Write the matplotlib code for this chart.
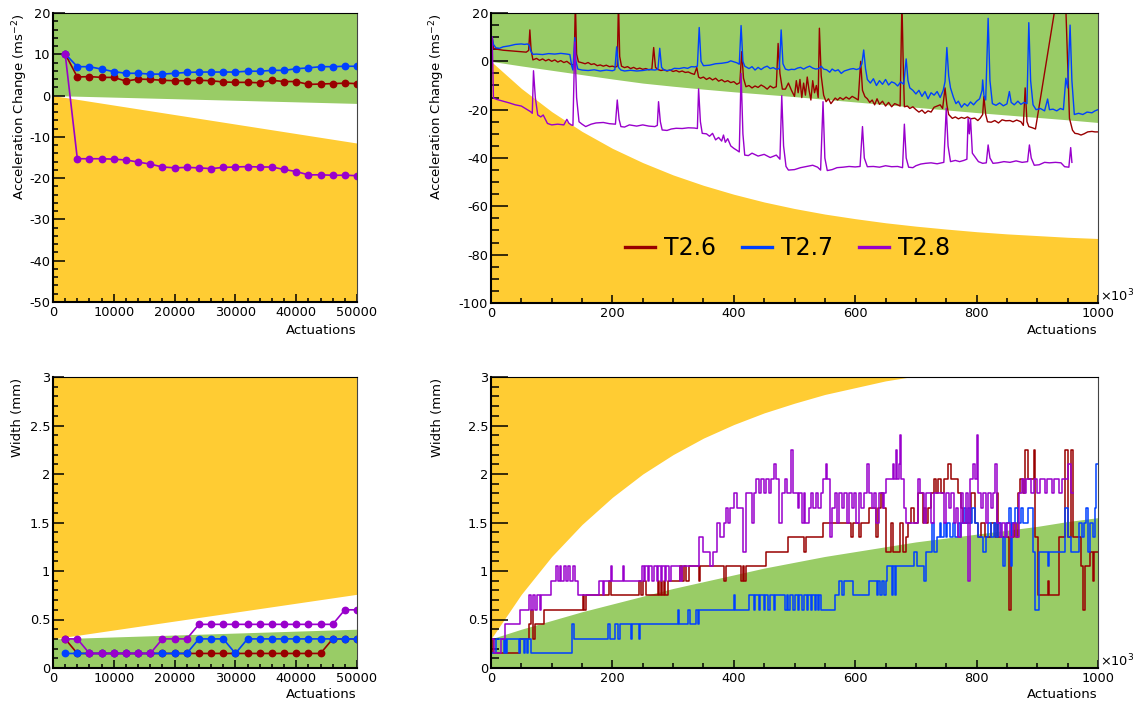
import numpy as np
import matplotlib
matplotlib.use("Agg")
import matplotlib.pyplot as plt
from matplotlib.ticker import MultipleLocator
from matplotlib.lines import Line2D

plt.rcParams['font.family'] = ['DejaVu Sans']
plt.rcParams['axes.unicode_minus'] = False
plt.rcParams['mathtext.default'] = 'regular'

# ---------------------------------------------------------------- styling
LABELS = ["T2.6", "T2.7", "T2.8"]
RED, BLUE, PURPLE = "#990000", "#0040ff", "#9900cc"
GREEN, ORANGE = "#99cc66", "#ffcc33"

# ------------------------------------------- first 50 000 actuations (every 2000)
SHORT_X = list(range(2000, 50001, 2000))

T26_SHORT_ACC = [10.1, 4.5, 4.6, 4.4, 4.4, 3.5, 4.0, 3.9, 3.7, 3.6, 3.6, 3.7, 3.6,
                 3.3, 3.2, 3.2, 3.1, 3.7, 3.4, 3.4, 2.7, 2.8, 2.9, 3.0, 2.9]
T27_SHORT_ACC = [10.1, 7.0, 7.0, 6.4, 5.8, 5.4, 5.4, 5.2, 5.2, 5.4, 5.6, 5.7, 5.7,
                 5.7, 5.7, 5.9, 5.9, 6.1, 6.1, 6.5, 6.7, 7.0, 7.0, 7.1, 7.1]
T28_SHORT_ACC = [10.1, -15.3, -15.3, -15.3, -15.4, -15.6, -16.1, -16.6, -17.3, -17.5,
                 -17.4, -17.5, -17.7, -17.4, -17.3, -17.2, -17.3, -17.3, -17.9, -18.4,
                 -19.2, -19.2, -19.3, -19.3, -19.4]

T26_SHORT_W = [0.3] + [0.15] * 21 + [0.3] * 3
T27_SHORT_W = [0.15] * 11 + [0.3] * 3 + [0.15] + [0.3] * 10
T28_SHORT_W = [0.3] * 2 + [0.15] * 6 + [0.3] * 3 + [0.45] * 12 + [0.6] * 2

# tolerance bands over the first 50 000 actuations
SHORT_BAND_X = [0, 50000]
SHORT_ACC_GREEN_EDGE = [0.0, -1.9]
SHORT_ACC_ORANGE_EDGE = [0.0, -11.5]
SHORT_W_GREEN_EDGE = [0.30, 0.40]
SHORT_W_ORANGE_EDGE = [0.30, 0.76]

# ------------------------------------------- full run (x in thousands of actuations)
BAND_K = list(range(0, 1001, 50))
ACC_GREEN_EDGE = [0.0, -1.9, -3.7, -5.5, -7.3, -9.0, -10.3, -11.5, -12.6, -13.6, -14.6,
                  -15.7, -16.8, -17.9, -19.0, -20.1, -21.2, -22.2, -23.2, -24.2, -25.3]
ACC_ORANGE_EDGE = [0.0, -11.2, -20.8, -29.0, -36.0, -41.9, -47.0, -51.3, -55.0, -58.2,
                   -60.9, -63.2, -65.1, -66.8, -68.2, -69.4, -70.5, -71.4, -72.1, -72.8, -73.3]
W_GREEN_EDGE = [0.30, 0.40, 0.49, 0.58, 0.66, 0.74, 0.82, 0.89, 0.96, 1.03, 1.09,
                1.15, 1.20, 1.25, 1.30, 1.34, 1.38, 1.42, 1.46, 1.51, 1.55]
W_ORANGE_EDGE = [0.30, 0.76, 1.15, 1.48, 1.76, 2.00, 2.20, 2.37, 2.51, 2.63, 2.73,
                 2.82, 2.89, 2.96, 3.01, 3.05, 3.08, 3.11, 3.13, 3.15, 3.16]

# acceleration change, T2.6
T26_ACC_K = [2, 4, 10, 20, 30, 40, 50, 58, 62, 64, 66, 69, 75, 80, 85, 90, 95, 100, 105, 110,
             115, 120, 125, 130, 133, 137, 139, 141, 144, 150, 155, 160, 165, 170, 175, 180,
             185, 190, 195, 200, 205, 208, 210, 212, 215, 220, 225, 230, 235, 240, 245, 250,
             255, 260, 265, 268, 271, 275, 280, 285, 290, 295, 300, 305, 310, 315, 320, 325,
             330, 335, 339, 342, 345, 350, 355, 360, 365, 370, 375, 380, 385, 390, 395, 400,
             405, 410, 413, 416, 420, 425, 430, 435, 440, 445, 450, 455, 460, 465, 470, 473,
             476, 480, 485, 490, 495, 500, 503, 506, 509, 512, 515, 518, 521, 524, 527, 530,
             533, 536, 539, 541, 544, 548, 552, 556, 560, 563, 567, 571, 575, 580, 585, 590,
             595, 600, 605, 609, 612, 616, 620, 624, 628, 632, 636, 640, 645, 650, 655, 660,
             665, 670, 674, 677, 679, 681, 686, 690, 695, 700, 705, 710, 715, 720, 725, 730,
             735, 740, 744, 748, 751, 754, 760, 765, 770, 775, 780, 785, 790, 797, 802, 806,
             810, 812, 815, 818, 824, 830, 836, 842, 848, 855, 860, 866, 873, 877, 880, 883,
             886, 892, 897, 944, 953, 958, 962, 967, 972, 977, 983, 990, 995, 1000]
T26_ACC = [10.0, 5.4, 5.0, 4.6, 4.4, 4.2, 4.0, 3.8, 4.5, 13.0, 5.0, 0.6, 1.2, 0.4, 1.0, 0.2,
           0.8, 0.0, 0.6, -0.3, 0.3, -0.5, 0.0, -1.0, -1.5, -1.2, 25.0, 3.0, -0.2, -0.6, -1.0,
           -0.5, -1.3, -1.0, -1.8, -1.5, -2.0, -1.6, -2.2, -2.0, -2.4, -2.0, 25.0, 2.0, -2.0,
           -2.6, -2.2, -3.0, -2.5, -3.2, -2.8, -3.3, -3.0, -3.5, -3.2, 5.7, -2.5, -3.4, -3.8,
           -3.5, -4.0, -3.6, -4.2, -3.8, -4.4, -4.0, -4.6, -4.4, -5.0, -5.4, -2.6, -6.5, -7.0,
           -6.5, -7.5, -6.8, -7.7, -7.0, -8.2, -7.6, -8.5, -8.0, -8.8, -8.4, -9.5, -8.8, 4.0,
           -7.0, -10.5, -10.0, -11.0, -10.2, -10.8, -9.8, -10.5, -11.5, -10.2, -11.0, -10.5,
           7.4, -5.0, -11.5, -11.5, -9.0, -12.0, -14.5, -8.0, -13.0, -7.5, -15.0, -9.0, -14.0,
           -6.5, -12.0, -16.0, -8.0, -13.0, -10.0, -15.0, 13.7, -6.0, -14.0, -16.7, -15.5,
           -17.5, -16.5, -15.2, -16.0, -15.0, -15.8, -14.8, -15.6, -14.5, -15.2, -16.0, 0.0,
           -12.0, -14.6, -15.5, -17.0, -16.0, -18.0, -15.5, -17.8, -16.5, -18.5, -17.0, -18.8,
           -17.5, -18.0, -18.5, 25.0, 0.0, -18.8, -18.5, -19.5, -18.8, -20.0, -21.0, -20.2,
           -21.5, -20.5, -21.0, -19.0, -18.5, -18.0, -19.5, -11.0, -18.0, -22.0, -23.6, -23.0,
           -23.8, -23.2, -23.6, -23.0, -23.8, -23.5, -24.5, -23.5, -22.0, -14.6, -22.0, -25.0,
           -25.2, -24.5, -25.5, -24.2, -24.6, -24.5, -25.0, -24.3, -25.0, -26.5, -11.0, -25.0,
           -27.0, -27.5, -28.0, 45.0, -23.6, -28.5, -29.8, -30.0, -30.5, -30.0, -29.2, -29.0,
           -29.2, -29.2]

# acceleration change, T2.7
T27_ACC_K = [2, 4, 8, 14, 20, 30, 40, 50, 55, 60, 63, 66, 69, 75, 85, 95, 105, 115, 125, 130,
             133, 135, 138, 140, 143, 150, 160, 170, 180, 190, 200, 204, 207, 210, 214, 220,
             230, 240, 250, 260, 270, 275, 278, 281, 285, 290, 296, 302, 310, 318, 324, 330,
             336, 340, 343, 346, 350, 360, 370, 380, 390, 395, 400, 405, 409, 412, 415, 418,
             425, 430, 435, 440, 445, 450, 455, 460, 465, 470, 475, 478, 481, 485, 490, 495,
             500, 505, 510, 515, 520, 525, 530, 535, 540, 544, 548, 553, 558, 562, 567, 572,
             577, 582, 587, 592, 597, 602, 607, 611, 614, 617, 620, 625, 630, 635, 640, 645,
             650, 655, 660, 665, 670, 675, 680, 684, 687, 690, 695, 700, 705, 710, 715, 720,
             725, 730, 735, 740, 745, 748, 751, 754, 757, 762, 766, 770, 775, 780, 785, 790,
             795, 800, 805, 809, 810, 812, 815, 819, 822, 826, 832, 838, 844, 850, 854, 857,
             862, 868, 873, 878, 883, 886, 889, 893, 898, 905, 912, 917, 920, 926, 932, 938,
             943, 947, 950, 954, 957, 961, 968, 975, 982, 990, 995, 1000]
T27_ACC = [10.0, 7.0, 5.6, 5.4, 6.0, 6.4, 7.0, 7.2, 7.0, 7.2, 6.6, 4.0, 2.9, 3.0, 2.8, 3.2,
           3.0, 3.3, 3.0, 2.8, -2.0, -3.6, 9.8, 0.0, -3.2, -3.6, -3.8, -3.5, -4.0, -3.6, -3.9,
           -3.5, 6.0, -2.5, -3.6, -4.0, -3.7, -4.0, -3.8, -3.4, -3.6, -3.3, 5.4, -2.5, -3.6,
           -3.8, -3.6, -2.9, -3.0, -2.6, -2.9, -2.2, -2.3, -2.0, 14.0, 0.0, -1.8, -1.6, -1.0,
           -0.8, -0.4, 0.2, -0.2, -0.6, -1.2, 14.8, 0.0, -2.0, -3.0, -2.2, -3.6, -2.5, -3.4,
           -2.5, -2.0, -3.0, -2.6, -3.3, -3.0, 13.0, -1.0, -3.2, -3.6, -3.3, -3.4, -2.8, -2.5,
           -3.2, -2.5, -2.0, -2.8, -3.2, -3.0, -2.0, -3.2, -3.5, -4.5, -3.2, -4.0, -3.5, -5.0,
           -4.0, -3.6, -3.2, -3.0, -3.4, -3.0, -1.0, 4.7, -3.0, -7.5, -9.0, -7.2, -10.0, -8.0,
           -9.5, -7.5, -9.8, -8.5, -9.0, -10.2, -8.5, -9.5, 1.0, -8.0, -11.0, -12.0, -13.5,
           -12.0, -14.5, -12.5, -15.5, -13.0, -14.0, -12.5, -15.0, -12.0, -8.4, 5.7, -6.0,
           -11.0, -15.0, -17.5, -16.5, -19.0, -17.5, -18.5, -16.8, -18.0, -16.5, -15.5, -12.0,
           -7.7, -14.0, -16.0, 17.8, -8.0, -17.5, -18.2, -17.2, -18.4, -17.6, -12.5, -17.0,
           -18.0, -16.5, -17.8, -17.0, -17.5, 16.0, -8.0, -18.0, -20.0, -19.5, -20.5, -15.6,
           -20.0, -19.8, -20.5, -19.5, -20.0, -7.0, -11.0, 15.0, -8.0, -22.0, -21.5, -22.0,
           -21.0, -21.3, -20.5, -20.0]

# acceleration change, T2.8
T28_ACC_K = [2, 4, 10, 20, 30, 40, 50, 60, 65, 68, 70, 73, 77, 82, 86, 93, 100, 110, 120,
             125, 128, 132, 135, 138, 141, 145, 150, 156, 165, 173, 185, 195, 205, 208, 211,
             214, 220, 228, 240, 250, 260, 270, 274, 276, 279, 282, 290, 297, 305, 315, 325,
             335, 340, 342, 345, 348, 355, 360, 365, 370, 375, 380, 383, 386, 390, 395, 400,
             405, 409, 412, 415, 418, 424, 430, 440, 450, 460, 470, 476, 479, 482, 486, 490,
             500, 510, 520, 530, 538, 543, 547, 550, 554, 562, 570, 580, 590, 600, 608, 612,
             615, 620, 630, 640, 650, 660, 670, 678, 681, 684, 688, 695, 700, 708, 716, 725,
             735, 742, 746, 750, 753, 757, 765, 772, 779, 784, 786, 788, 790, 793, 797, 803,
             810, 816, 819, 822, 827, 835, 845, 855, 865, 875, 884, 887, 890, 895, 903, 912,
             920, 930, 939, 945, 952, 955, 957]
T28_ACC = [10.0, -15.2, -15.8, -16.5, -17.2, -18.0, -18.5, -20.0, -20.8, -21.5, -3.9, -15.0,
           -22.2, -23.0, -22.2, -25.7, -26.3, -26.0, -26.3, -24.0, -25.5, -26.3, -26.5, 8.0,
           -15.0, -25.0, -26.0, -27.0, -26.0, -25.5, -25.3, -25.8, -26.0, -16.0, -24.0, -27.0,
           -27.2, -26.3, -26.8, -26.3, -26.8, -27.0, -26.5, -16.7, -25.0, -28.4, -28.6, -28.0,
           -27.7, -27.8, -27.5, -27.6, -27.8, -11.4, -25.0, -29.8, -30.0, -31.0, -29.8, -32.5,
           -31.5, -33.0, -30.5, -33.5, -32.0, -35.0, -36.0, -36.8, -37.5, -5.0, -30.0, -38.8,
           -39.0, -38.0, -39.2, -38.5, -39.8, -38.8, -40.5, -14.2, -35.0, -43.5, -45.0, -44.8,
           -44.0, -43.5, -43.0, -43.8, -45.0, -16.7, -40.0, -45.2, -44.8, -44.0, -43.8, -43.5,
           -43.7, -43.5, -27.0, -40.0, -43.6, -43.5, -43.8, -43.2, -43.6, -43.5, -44.0, -26.0,
           -40.0, -43.8, -44.0, -43.2, -42.5, -42.2, -42.0, -42.4, -42.0, -41.8, -19.4, -35.0,
           -41.5, -41.0, -41.5, -41.0, -40.5, -23.6, -30.0, -23.6, -38.0, -39.4, -41.5, -42.2,
           -42.0, -34.6, -40.0, -42.2, -42.0, -41.5, -41.8, -41.2, -41.8, -41.5, -34.6, -40.0,
           -43.0, -42.8, -41.8, -42.0, -41.8, -42.0, -43.6, -43.8, -35.7, -41.8]

# track width, recorded in whole steps of WIDTH_STEP_MM
WIDTH_STEP_MM = 0.15

T26_W_K = [2, 4, 47, 62, 66, 69, 73, 88, 151, 154, 156, 194, 197, 244, 247, 250, 256, 275, 277,
           280, 282, 285, 287, 291, 312, 315, 318, 322, 326, 342, 345, 384, 387, 412, 415, 417,
           420, 453, 489, 516, 519, 547, 593, 596, 607, 610, 623, 634, 637, 642, 645, 651, 659,
           662, 673, 678, 684, 687, 692, 697, 703, 711, 714, 717, 720, 725, 729, 733, 737, 741,
           746, 753, 758, 769, 774, 777, 791, 797, 803, 808, 814, 824, 830, 833, 836, 854, 857,
           861, 865, 868, 872, 876, 879, 884, 894, 896, 901, 917, 920, 936, 945, 950, 955, 958,
           972, 975, 978, 986, 991, 994, 1000]
T26_W_STEPS = [2, 1, 2, 3, 4, 2, 3, 4, 5, 4, 5, 6, 5, 6, 5, 6, 5, 6, 5, 6, 5, 6, 5, 6, 7, 6, 7,
               6, 7, 6, 7, 6, 7, 6, 7, 6, 7, 8, 9, 8, 9, 10, 9, 10, 9, 10, 11, 9, 11, 12, 11, 8,
               10, 8, 10, 8, 9, 10, 11, 10, 12, 10, 11, 10, 11, 12, 13, 12, 13, 12, 13, 14, 13,
               12, 11, 10, 12, 10, 9, 10, 9, 10, 9, 12, 9, 4, 9, 10, 9, 12, 13, 12, 15, 13, 15,
               9, 5, 6, 5, 9, 15, 9, 15, 9, 7, 4, 7, 8, 6, 8, 8]

T27_W_K = [2, 8, 21, 23, 25, 27, 46, 48, 54, 56, 59, 61, 66, 133, 136, 192, 196, 205, 210, 212,
           230, 232, 244, 246, 308, 310, 324, 328, 338, 341, 343, 400, 402, 425, 433, 435, 441,
           443, 449, 451, 457, 459, 466, 468, 485, 487, 490, 492, 498, 500, 505, 507, 513, 515,
           521, 523, 527, 529, 533, 535, 538, 540, 544, 566, 573, 579, 581, 596, 623, 636, 638,
           641, 644, 647, 650, 653, 660, 662, 666, 668, 697, 701, 713, 716, 727, 730, 735, 739,
           742, 746, 749, 752, 756, 761, 764, 769, 772, 775, 779, 782, 786, 789, 793, 797, 802,
           810, 816, 819, 824, 828, 832, 836, 840, 843, 846, 849, 853, 857, 859, 864, 868, 873,
           877, 884, 893, 897, 903, 917, 919, 945, 950, 956, 969, 973, 977, 980, 983, 986, 991,
           995, 997, 1000]
T27_W_STEPS = [1, 2, 1, 2, 1, 2, 1, 2, 1, 2, 1, 2, 1, 3, 2, 3, 2, 3, 2, 3, 2, 3, 2, 3, 4, 3, 4,
               3, 4, 3, 4, 5, 4, 5, 4, 5, 4, 5, 4, 5, 4, 5, 4, 5, 4, 5, 4, 5, 4, 5, 4, 5, 4, 5,
               4, 5, 4, 5, 4, 5, 4, 5, 4, 5, 6, 5, 6, 5, 6, 5, 6, 5, 6, 5, 6, 7, 5, 7, 5, 7, 8, 7,
               6, 8, 10, 8, 9, 10, 9, 10, 9, 10, 9, 10, 9, 10, 9, 10, 11, 10, 11, 10, 11, 10, 9,
               8, 9, 10, 9, 10, 9, 10, 9, 7, 9, 10, 11, 7, 10, 11, 10, 11, 10, 11, 8, 4, 8, 7, 8,
               11, 9, 8, 10, 9, 10, 11, 8, 10, 9, 11, 14, 14]

T28_W_K = [2, 5, 17, 23, 47, 63, 66, 69, 73, 76, 80, 83, 99, 107, 110, 113, 116, 120, 123, 127,
           130, 135, 138, 143, 178, 184, 186, 197, 200, 217, 219, 248, 252, 254, 259, 261, 266,
           268, 273, 275, 280, 282, 287, 289, 294, 296, 312, 314, 343, 349, 360, 365, 373, 377,
           384, 387, 390, 393, 401, 406, 415, 420, 430, 433, 437, 441, 444, 450, 453, 458, 461,
           466, 469, 475, 480, 484, 488, 495, 498, 505, 508, 512, 515, 518, 524, 527, 531, 535,
           539, 543, 547, 552, 554, 558, 562, 566, 570, 574, 578, 582, 586, 590, 594, 598, 602,
           606, 610, 614, 619, 622, 627, 631, 634, 640, 645, 648, 651, 662, 664, 667, 669, 672,
           674, 676, 681, 683, 703, 706, 714, 716, 725, 730, 746, 750, 754, 758, 762, 766, 770,
           774, 778, 783, 786, 789, 794, 797, 800, 803, 807, 811, 815, 819, 823, 827, 831, 834,
           838, 842, 846, 850, 855, 860, 865, 870, 874, 878, 882, 890, 894, 900, 904, 912, 916,
           924, 928, 936, 940, 950, 955, 958]
T28_W_STEPS = [2, 1, 2, 3, 4, 5, 4, 5, 4, 5, 4, 5, 6, 7, 6, 7, 6, 7, 6, 7, 6, 7, 6, 5, 6, 5, 6,
               7, 6, 7, 6, 7, 6, 7, 6, 7, 6, 7, 6, 7, 6, 7, 6, 7, 6, 7, 6, 7, 9, 8, 7, 8, 10, 9,
               10, 11, 10, 11, 12, 11, 8, 12, 10, 12, 13, 12, 13, 12, 13, 12, 13, 14, 13, 10, 12,
               13, 12, 15, 12, 11, 12, 10, 12, 10, 11, 12, 11, 12, 11, 12, 13, 14, 13, 9, 11, 12,
               10, 12, 11, 12, 10, 12, 11, 12, 10, 12, 11, 12, 14, 12, 11, 12, 10, 12, 11, 12,
               13, 14, 13, 15, 13, 14, 16, 13, 11, 10, 13, 12, 10, 12, 10, 12, 10, 12, 11, 12,
               10, 11, 9, 12, 10, 12, 6, 13, 14, 13, 16, 12, 11, 12, 10, 12, 11, 12, 14, 10, 9,
               10, 9, 10, 9, 10, 9, 12, 13, 12, 13, 12, 13, 12, 13, 12, 13, 12, 13, 12, 13, 14,
               12, 12]

# ---------------------------------------------------------------- figure
W, H = 1133, 706
fig = plt.figure(figsize=(W / 100, H / 100), dpi=100)


def px_axes(left, top, right, bottom):
    return fig.add_axes([left / W, 1 - bottom / H, (right - left) / W, (bottom - top) / H])


ax_tl = px_axes(53, 13, 357, 302)
ax_tr = px_axes(491, 13, 1098, 303)
ax_bl = px_axes(53, 377, 357, 668)
ax_br = px_axes(491, 377, 1098, 668)

TICK_FS = 9.3
LABEL_FS = 9.5


def style_axes(ax, ymaj, ymin, xmaj, xmin, ylen, xlen):
    ax.xaxis.set_major_locator(MultipleLocator(xmaj))
    ax.xaxis.set_minor_locator(MultipleLocator(xmin))
    ax.yaxis.set_major_locator(MultipleLocator(ymaj))
    ax.yaxis.set_minor_locator(MultipleLocator(ymin))
    ax.tick_params(which='both', direction='in', top=False, right=False,
                   labelsize=TICK_FS, width=1.1, color='black')
    ax.tick_params(axis='y', which='major', length=ylen[0], pad=2)
    ax.tick_params(axis='y', which='minor', length=ylen[1])
    ax.tick_params(axis='x', which='major', length=xlen[0], pad=3)
    ax.tick_params(axis='x', which='minor', length=xlen[1])
    ax.spines['left'].set_linewidth(1.5)
    ax.spines['bottom'].set_linewidth(1.5)
    ax.spines['top'].set_linewidth(0.8)
    ax.spines['right'].set_linewidth(0.8)
    ax.spines['right'].set_color('#444444')


def fmt_num(v, pos=None):
    if abs(v - round(v)) < 1e-9:
        return "%d" % round(v)
    return ("%g" % v)


# ---------------- top-left: acceleration change, first 50k
ax = ax_tl
ax.fill_between(SHORT_BAND_X, SHORT_ACC_GREEN_EDGE, 20, color=GREEN, lw=0, zorder=0)
ax.fill_between(SHORT_BAND_X, -50, SHORT_ACC_ORANGE_EDGE, color=ORANGE, lw=0, zorder=0)
for ys, c in ((T26_SHORT_ACC, RED), (T27_SHORT_ACC, BLUE), (T28_SHORT_ACC, PURPLE)):
    ax.plot(SHORT_X, ys, color=c, lw=1.2, marker='o', ms=4.6, mec=c, mfc=c)
ax.set_xlim(0, 50000)
ax.set_ylim(-50, 20)
style_axes(ax, 10, 2, 10000, 2000, (8.5, 3.8), (6, 3))

# ---------------- bottom-left: width, first 50k
ax = ax_bl
ax.fill_between(SHORT_BAND_X, SHORT_W_ORANGE_EDGE, 3, color=ORANGE, lw=0, zorder=0)
ax.fill_between(SHORT_BAND_X, 0, SHORT_W_GREEN_EDGE, color=GREEN, lw=0, zorder=0)
for ys, c in ((T26_SHORT_W, RED), (T27_SHORT_W, BLUE), (T28_SHORT_W, PURPLE)):
    ax.plot(SHORT_X, ys, color=c, lw=1.2, marker='o', ms=4.6, mec=c, mfc=c)
ax.set_xlim(0, 50000)
ax.set_ylim(0, 3)
style_axes(ax, 0.5, 0.1, 10000, 2000, (8.0, 3.8), (6, 3))

# ---------------- top-right: acceleration change, full run
ax = ax_tr
ax.fill_between(BAND_K, ACC_GREEN_EDGE, 20, color=GREEN, lw=0, zorder=0)
ax.fill_between(BAND_K, -100, ACC_ORANGE_EDGE, color=ORANGE, lw=0, zorder=0)
ax.plot(T26_ACC_K, T26_ACC, color=RED, lw=1.0)
ax.plot(T27_ACC_K, T27_ACC, color=BLUE, lw=1.0)
ax.plot(T28_ACC_K, T28_ACC, color=PURPLE, lw=1.0)
ax.set_xlim(0, 1000)
ax.set_ylim(-100, 20)
style_axes(ax, 20, 5, 200, 50, (12, 5.8), (6, 3.5))
handles = [Line2D([], [], color=c, lw=2.4) for c in (RED, BLUE, PURPLE)]
ax.legend(handles, LABELS, loc='center', bbox_to_anchor=(0.488, 0.19), ncol=3,
          frameon=False, fontsize=17, handlelength=1.3, handletextpad=0.35,
          columnspacing=1.1, borderaxespad=0)

# ---------------- bottom-right: width, full run
ax = ax_br
ax.fill_between(BAND_K, W_ORANGE_EDGE, 3.5, color=ORANGE, lw=0, zorder=0)
ax.fill_between(BAND_K, 0, W_GREEN_EDGE, color=GREEN, lw=0, zorder=0)
for ks, steps, c in ((T26_W_K, T26_W_STEPS, RED), (T27_W_K, T27_W_STEPS, BLUE),
                     (T28_W_K, T28_W_STEPS, PURPLE)):
    ax.plot(ks, np.asarray(steps) * WIDTH_STEP_MM, color=c, lw=1.1, drawstyle='steps-post')
ax.set_xlim(0, 1000)
ax.set_ylim(0, 3)
style_axes(ax, 0.5, 0.1, 200, 50, (12, 5.8), (6, 3.5))

for a in (ax_tl, ax_tr, ax_bl, ax_br):
    a.xaxis.set_major_formatter(plt.FuncFormatter(fmt_num))
    a.yaxis.set_major_formatter(plt.FuncFormatter(fmt_num))

# ---------------- titles and multipliers
ACC_TITLE = r"Acceleration Change (ms$^{-2}$)"
WIDTH_TITLE = "Width (mm)"
X_TITLE = "Actuations"

fig.text(20 / W, 1 - 13 / H, ACC_TITLE, rotation=90, ha='center', va='top', fontsize=LABEL_FS)
fig.text(437 / W, 1 - 13 / H, ACC_TITLE, rotation=90, ha='center', va='top', fontsize=LABEL_FS)
fig.text(18 / W, 1 - 378 / H, WIDTH_TITLE, rotation=90, ha='center', va='top', fontsize=LABEL_FS)
fig.text(437 / W, 1 - 378 / H, WIDTH_TITLE, rotation=90, ha='center', va='top', fontsize=LABEL_FS)

fig.text(357 / W, 1 - 331 / H, X_TITLE, ha='right', va='center', fontsize=LABEL_FS)
fig.text(1098 / W, 1 - 331 / H, X_TITLE, ha='right', va='center', fontsize=LABEL_FS)
fig.text(357 / W, 1 - 694 / H, X_TITLE, ha='right', va='center', fontsize=LABEL_FS)
fig.text(1098 / W, 1 - 694 / H, X_TITLE, ha='right', va='center', fontsize=LABEL_FS)

fig.text(1100 / W, 1 - 304 / H, r"$\times$10$^{3}$", ha='left', va='bottom', fontsize=TICK_FS)
fig.text(1100 / W, 1 - 669 / H, r"$\times$10$^{3}$", ha='left', va='bottom', fontsize=TICK_FS)

fig.savefig("out.png", dpi=100)
